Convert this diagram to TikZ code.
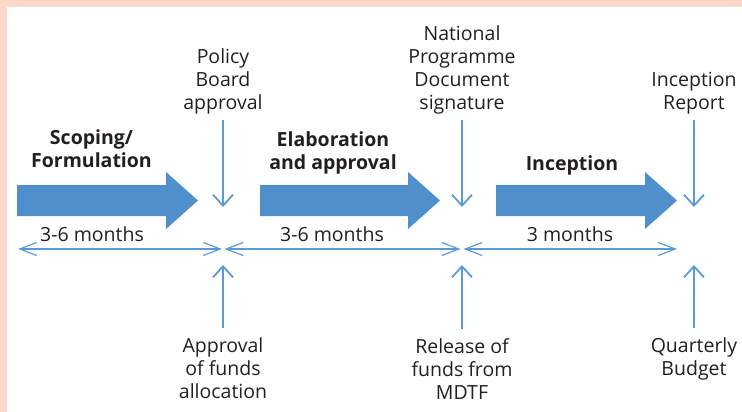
\documentclass[tikz,border=0pt]{standalone}
\usepackage{fontspec}
\setmainfont{Open Sans}
\usetikzlibrary{arrows.meta}

\definecolor{phaseblue}{HTML}{4F8FCC}
\definecolor{lineblue}{HTML}{5B9BD5}
\definecolor{salmon}{HTML}{FCD8CA}
\definecolor{textgray}{HTML}{231F20}

% big phase arrow: start of body, tip
\newcommand{\phasearrow}[2]{%
  \fill[phaseblue] (#1,185) -- ({#2-32},185) -- ({#2-32},172) -- (#2,200.5)
    -- ({#2-32},229) -- ({#2-32},216) -- (#1,216) -- cycle;}

\begin{document}
\begin{tikzpicture}[x=1pt, y=-1pt,
    note/.style={align=center, inner sep=0pt, text=textgray, font=\fontsize{19.5}{23}\selectfont},
    phase/.style={note, font=\fontsize{19.5}{23}\selectfont\bfseries},
    milestone/.style={draw=lineblue, line width=1.8pt, -{Straight Barb[length=11pt, width=20pt]}},
    period/.style={draw=lineblue, line width=1.2pt,
      {Straight Barb[length=17pt, width=13pt]}-{Straight Barb[length=17pt, width=13pt]}}]

        \useasboundingbox (0,0) rectangle (742,412);
        \fill[salmon] (0,0) rectangle (742,7);
        \fill[salmon] (0,0) rectangle (7,412);

        \phasearrow{17}{198}
        \phasearrow{260}{440}
        \phasearrow{496}{677}

        \node[phase, anchor=north] (scoping) at (91.5,129) {Scoping/\\Formulation};
        \node[phase, anchor=north] (elaboration) at (333,131) {Elaboration\\and approval};
        \node[phase, anchor=north] (inception) at (572,155) {Inception};

        \node[note, anchor=base] (len1) at (92,241.5) {3-6 months};
        \node[note, anchor=base] (len2) at (332,241.5) {3-6 months};
        \node[note, anchor=base] (len3) at (570,241.5) {3 months};

        % time line
        \coordinate (start) at (18,249);
        \coordinate (m1) at (223,249);
        \coordinate (m2) at (462,249);
        \coordinate (end) at (677,249);
        \draw[period] (start) -- ([xshift=-1pt]m1);
        \draw[period] ([xshift=1.5pt]m1) -- ([xshift=-1.5pt]m2);
        \draw[period] ([xshift=1.5pt]m2) -- (end);

        % milestones above
        \node[note, anchor=south] (policy) at (223,114) {Policy\\Board\\approval};
        \node[note, anchor=south] (signature) at (462,114) {National\\Programme\\Document\\signature};
        \node[note, anchor=south] (report) at (694,114) {Inception\\Report};
        \coordinate (m1top) at (223,207);
        \coordinate (m2top) at (462,207);
        \coordinate (m3top) at (694,207);
        \draw[milestone, shorten <=6pt] (policy) -- (m1top);
        \draw[milestone, shorten <=6pt] (signature) -- (m2top);
        \draw[milestone, shorten <=6pt] (report) -- (m3top);

        % milestones below
        \node[note, anchor=north] (funds) at (223,337) {Approval\\of funds\\allocation};
        \node[note, anchor=north] (release) at (462,338) {Release of\\funds from\\MDTF};
        \node[note, anchor=north] (budget) at (694,337) {Quarterly\\Budget};
        \coordinate (m1bot) at (223,265);
        \coordinate (m2bot) at (462,265);
        \coordinate (m3bot) at (694,265);
        \draw[milestone, shorten <=9pt] (funds) -- (m1bot);
        \draw[milestone, shorten <=9pt] (release) -- (m2bot);
        \draw[milestone, shorten <=9pt] (budget) -- (m3bot);
    \end{tikzpicture}
\end{document}
